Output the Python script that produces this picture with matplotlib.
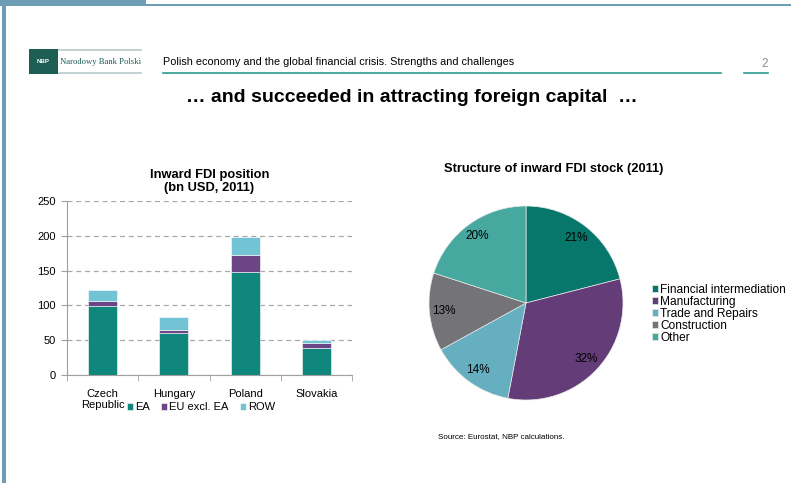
import numpy as np
import matplotlib.pyplot as plt
from matplotlib.patches import Rectangle

# data
countries = ['Czech\nRepublic', 'Hungary', 'Poland', 'Slovakia']
ea = [99, 61, 148, 39]
eu_excl_ea = [8, 3, 24, 7]
row = [15, 19, 26, 5]

sectors = ['Financial intermediation', 'Manufacturing', 'Trade and Repairs', 'Construction', 'Other']
shares = [21, 32, 14, 13, 20]

bar_colors = ['#0F877C', '#6B4585', '#72C4D4']
pie_colors = ['#07776C', '#633C78', '#66AFC0', '#747478', '#47A8A0']

W, H = 791, 483
fig = plt.figure(figsize=(W / 100, H / 100), dpi=100)
plt.rcParams['font.family'] = ['Liberation Sans', 'DejaVu Sans']


def px(x0, y0, x1, y1):
    # pixel box (top-left origin) -> figure fraction rect
    return [x0 / W, 1 - y1 / H, (x1 - x0) / W, (y1 - y0) / H]


# slide frame
frame = fig.add_axes([0, 0, 1, 1])
frame.set_xlim(0, W)
frame.set_ylim(H, 0)
frame.axis('off')
frame.add_patch(Rectangle((0, 0), 146, 5, color='#6F9DB3', lw=0))
frame.add_patch(Rectangle((0, 3.5), W, 2, color='#6F9DB3', lw=0))
frame.add_patch(Rectangle((2, 0), 3.5, H, color='#6F9DB3', lw=0))

# logo
frame.add_patch(Rectangle((29, 49), 29, 25, color='#1D5E55', lw=0))
frame.text(43.5, 61.5, 'NBP', color='white', fontsize=4.5, weight='bold', ha='center', va='center')
frame.plot([59, 141], [50, 50], color='#B7CBCB', lw=1.2)
frame.plot([59, 141], [73, 73], color='#B7CBCB', lw=1.2)
frame.text(60, 61.5, 'Narodowy Bank Polski', color='#1D5E55', fontsize=6.2,
           family='Liberation Serif', va='center')

# header
frame.text(163, 62, 'Polish economy and the global financial crisis. Strengths and challenges',
           fontsize=7.8, va='center')
frame.plot([163, 721], [72.5, 72.5], color='#2A9A8C', lw=1.2)
frame.text(768, 64, '2', fontsize=8.5, color='#909090', ha='right', va='center')
frame.plot([744, 768], [72.5, 72.5], color='#2A9A8C', lw=1.2)

frame.text(412, 98, '\u2026 and succeeded in attracting foreign capital  \u2026',
           fontsize=14, weight='bold', ha='center', va='center')

# bar chart
ax = fig.add_axes(px(67, 201, 352, 375))
x = np.arange(len(countries))
w = 0.41
bottom2 = np.array(ea) + np.array(eu_excl_ea)
ax.bar(x, ea, w, color=bar_colors[0], label='EA', edgecolor='white', lw=0.4)
ax.bar(x, eu_excl_ea, w, bottom=ea, color=bar_colors[1], label='EU excl. EA', edgecolor='white', lw=0.4)
ax.bar(x, row, w, bottom=bottom2, color=bar_colors[2], label='ROW', edgecolor='white', lw=0.4)
ax.set_xlim(-0.5, len(countries) - 0.5)
ax.set_ylim(0, 250)
ax.set_yticks(range(0, 251, 50))
ax.set_xticks(x)
ax.set_xticklabels(countries, fontsize=8, linespacing=1.1)
ax.set_xticks(np.arange(-0.5, len(countries), 1), minor=True)
ax.tick_params(axis='x', which='major', length=0, pad=10)
ax.tick_params(axis='x', which='minor', length=4, color='#A0A0A0')
ax.tick_params(axis='y', labelsize=8, length=4, color='#A0A0A0', pad=4)
ax.yaxis.grid(True, ls=(0, (4, 3)), color='#A8A8A8', lw=0.9)
ax.set_axisbelow(True)
for s in ['top', 'right']:
    ax.spines[s].set_visible(False)
for s in ['left', 'bottom']:
    ax.spines[s].set_color('#A0A0A0')
ax.set_title('Inward FDI position\n(bn USD, 2011)', fontsize=9.3, weight='bold', pad=7, linespacing=1.1)
ax.legend(loc='upper left', bbox_to_anchor=(0.19, -0.125), ncol=3, frameon=False, fontsize=8,
          handlelength=0.55, handleheight=0.55, handletextpad=0.2, columnspacing=1.0, borderpad=0)

# pie chart
pax = fig.add_axes(px(429, 206, 623, 400))
wedges, texts, autotexts = pax.pie(shares, colors=pie_colors, startangle=90, counterclock=False,
                                   autopct='%d%%', pctdistance=0.85,
                                   wedgeprops=dict(edgecolor='#E8E8E8', lw=0.5),
                                   textprops=dict(fontsize=8.5))
pax.set_xlim(-1, 1)
pax.set_ylim(-1, 1)
pax.set_aspect('equal')
fig.text(554 / W, 1 - 169 / H, 'Structure of inward FDI stock (2011)', fontsize=9.3, weight='bold',
         ha='center', va='center')
fig.legend(wedges, sectors, loc='upper left', bbox_to_anchor=(646 / W, 1 - 278 / H), frameon=False,
           fontsize=8.6, handlelength=0.5, handleheight=0.5, handletextpad=0.2, labelspacing=0.0,
           borderpad=0)

fig.text(438 / W, 1 - 437 / H, 'Source: Eurostat, NBP calculations.', fontsize=5.8, va='center')

fig.savefig('out.png', dpi=100)
